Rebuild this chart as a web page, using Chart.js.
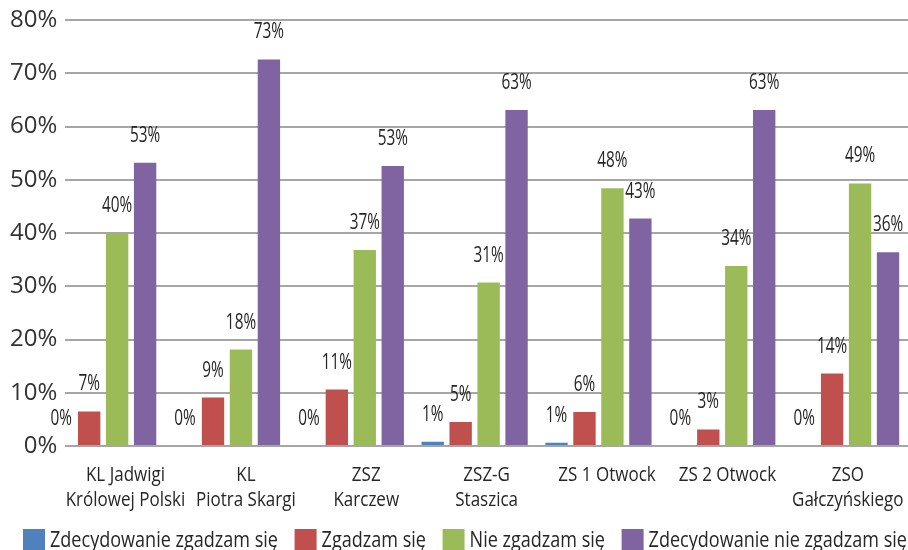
<!DOCTYPE html>
<html>
<head>
<meta charset="utf-8">
<script src="https://cdn.jsdelivr.net/npm/chart.js@4/dist/chart.umd.min.js"></script>
<style>
  html, body { margin: 0; padding: 0; background: #ffffff; }
  #wrap { width: 908px; height: 550px; position: relative; }
</style>
</head>
<body>
<div id="wrap"><canvas id="c" width="908" height="550"></canvas></div>
<script>
// ---- data ----
const categories = [
  ['KL Jadwigi', 'Królowej Polski'],
  ['KL', 'Piotra Skargi'],
  ['ZSZ', 'Karczew'],
  ['ZSZ-G', 'Staszica'],
  ['ZS 1 Otwock'],
  ['ZS 2 Otwock'],
  ['ZSO', 'Gałczyńskiego']
];
const seriesNames = ['Zdecydowanie zgadzam się', 'Zgadzam się', 'Nie zgadzam się', 'Zdecydowanie nie zgadzam się'];
const blueValues   = [0, 0, 0, 0.8, 0.6, 0, 0];
const redValues    = [6.5, 9.1, 10.6, 4.5, 6.4, 3.1, 13.6];
const greenValues  = [40.0, 18.1, 36.8, 30.7, 48.4, 33.8, 49.3];
const purpleValues = [53.2, 72.6, 52.6, 63.1, 42.7, 63.1, 36.4];
const yTicks = [0, 10, 20, 30, 40, 50, 60, 70, 80];

const colors = ['#4F81BD', '#C0504D', '#9BBB59', '#8064A2'];
const FONT = '"Open Sans", "Noto Sans", sans-serif';
const TEXT_COLOR = '#262626';

function toPoints(arr) { return arr.map((v, i) => ({ x: i, y: v })); }

function squeezedText(ctx, text, x, y, align, sx) {
  const w = ctx.measureText(text).width * sx;
  let left = x;
  if (align === 'center') left = x - w / 2;
  else if (align === 'right') left = x - w;
  ctx.save();
  ctx.translate(left, y);
  ctx.scale(sx, 1);
  ctx.textAlign = 'left';
  ctx.fillText(text, 0, 0);
  ctx.restore();
  return w;
}

const textPlugin = {
  id: 'customTexts',
  afterDatasetsDraw(chart) {
    const ctx = chart.ctx;
    ctx.save();
    ctx.fillStyle = TEXT_COLOR;
    ctx.textBaseline = 'middle';
    // data labels above bars
    ctx.font = '21px ' + FONT;
    chart.data.datasets.forEach((ds, i) => {
      const meta = chart.getDatasetMeta(i);
      meta.data.forEach((el, j) => {
        const v = ds.data[j].y;
        squeezedText(ctx, Math.round(v) + '%', el.x, el.y - 27, 'center', 0.73);
      });
    });
    // category labels (positioned by the category scale)
    const xs = chart.scales.x;
    const base = chart.chartArea.bottom;
    ctx.font = '20px ' + FONT;
    ctx.textBaseline = 'alphabetic';
    categories.forEach((lines, i) => {
      const cx = xs.getPixelForTick(i);
      lines.forEach((ln, k) => {
        squeezedText(ctx, ln, cx, base + 34.5 + k * 25, 'center', 0.85);
      });
    });
    // legend: one row, spread from left edge to right edge
    ctx.font = '22px ' + FONT;
    const LSX = 0.82, BOX = 22, GAP_IN = 5, L0 = 23, L1 = 907;
    const widths = seriesNames.map(n => ctx.measureText(n).width * LSX);
    const used = widths.reduce((a, b) => a + b, 0) + seriesNames.length * (BOX + GAP_IN);
    const gap = (L1 - L0 - used) / (seriesNames.length - 1);
    let x = L0;
    seriesNames.forEach((name, k) => {
      ctx.fillStyle = colors[k];
      ctx.fillRect(x, 529, BOX, BOX);
      x += BOX + GAP_IN;
      ctx.fillStyle = TEXT_COLOR;
      squeezedText(ctx, name, x, 547, 'left', LSX);
      x += widths[k] + gap;
    });
    ctx.restore();
  }
};

const allSeries = [blueValues, redValues, greenValues, purpleValues];

new Chart(document.getElementById('c'), {
  type: 'bar',
  data: {
    labels: categories,
    datasets: allSeries.map((vals, k) => ({
      label: seriesNames[k],
      data: toPoints(vals),
      backgroundColor: colors[k],
      borderWidth: 0,
      xAxisID: 'xb',
      yAxisID: 'y',
      categoryPercentage: 0.903,
      barPercentage: 0.8
    }))
  },
  options: {
    responsive: false,
    animation: false,
    layout: { padding: { left: 2, right: 0, top: 1.5, bottom: 104 } },
    plugins: {
      tooltip: { enabled: false },
      legend: { display: false }
    },
    scales: {
      x: {
        type: 'category',
        display: false,
        offset: true
      },
      xb: {
        type: 'linear',
        display: false,
        offset: false,
        min: -0.306,
        max: 6.5,
        afterBuildTicks: (axis) => { axis.ticks = categories.map((c, i) => ({ value: i })); }
      },
      y: {
        min: 0,
        max: 80,
        afterBuildTicks: (axis) => { axis.ticks = yTicks.map(v => ({ value: v })); },
        grid: { color: '#a6a6a6', lineWidth: 2, drawTicks: false },
        border: { display: false },
        ticks: {
          color: '#333333',
          padding: 8,
          font: { family: FONT, size: 24, lineHeight: 1.0 },
          callback: (v) => v + '%'
        }
      }
    }
  },
  plugins: [textPlugin]
});
</script>
</body>
</html>
